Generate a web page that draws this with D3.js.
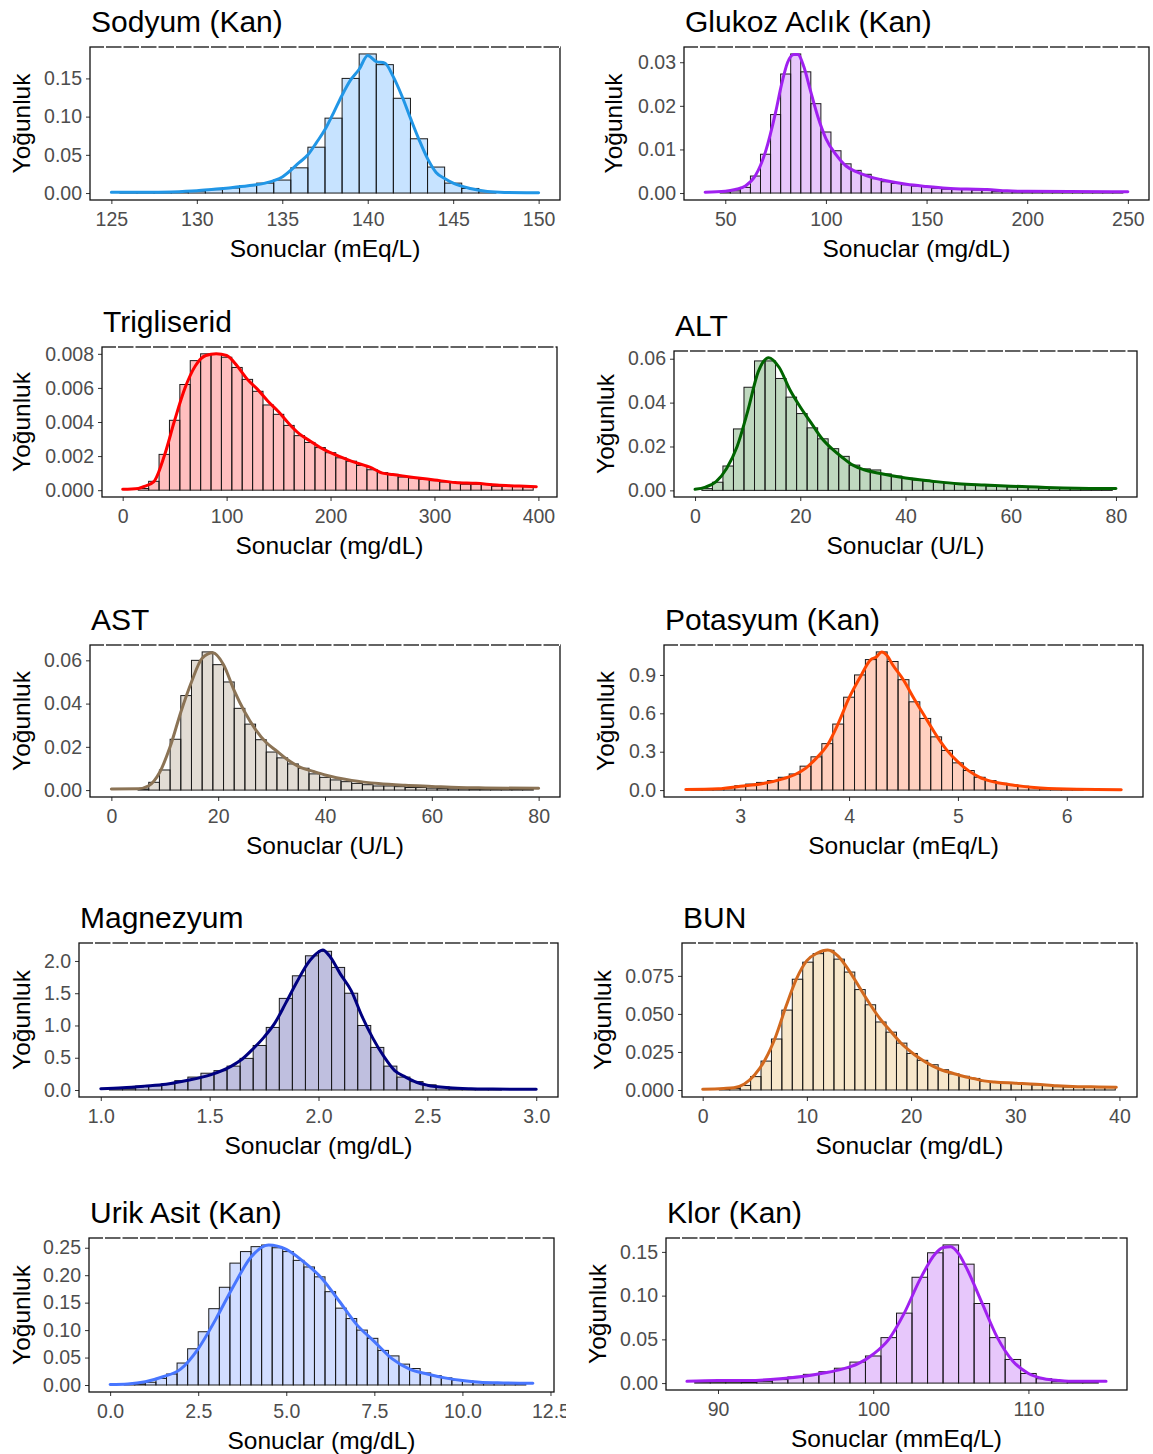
<!DOCTYPE html>
<html>
<head>
<meta charset="utf-8">
<script src="https://cdn.jsdelivr.net/npm/d3@7"></script>
<style>
  body { margin: 0; background: #fff; }
  svg { display: block; }
  text { font-family: "Liberation Sans", Arial, sans-serif; }
</style>
</head>
<body>
<svg width="1153" height="1454"></svg>
<script>
// histogram heights (density scale), one value per bin
const sodyumHist = [0.001, 0.001, 0.001, 0.0015, 0.0026, 0.0044, 0.0066, 0.0097, 0.013, 0.017, 0.033, 0.060, 0.098, 0.150, 0.182, 0.168, 0.124, 0.071, 0.034, 0.013, 0.006, 0.002];
const glukozHist = [0.0003, 0.0005, 0.0013, 0.0039, 0.0089, 0.018, 0.0273, 0.0319, 0.0278, 0.0205, 0.014, 0.0097, 0.0067, 0.0052, 0.0043, 0.0033, 0.0026, 0.0022, 0.0019, 0.0016, 0.0015, 0.0011, 0.0009, 0.0009, 0.0008, 0.0007, 0.0007, 0.0004, 0.0004, 0.0003, 0.0003, 0.0003, 0.0003, 0.0002, 0.0002, 0.0002, 0.0002, 0.0002, 0.0002, 0.0002];
const trigHist = [0.0001, 0.00052, 0.0021, 0.0041, 0.0062, 0.0076, 0.0080, 0.0080, 0.0078, 0.0072, 0.0065, 0.0058, 0.0050, 0.00445, 0.0038, 0.0032, 0.0028, 0.0025, 0.0022, 0.0019, 0.0017, 0.00145, 0.0012, 0.00103, 0.00093, 0.00077, 0.00072, 0.00064, 0.00056, 0.00048, 0.00046, 0.00035, 0.00035, 0.00035, 0.00023, 0.00023, 0.00023, 0.0002];
const altHist = [0.0008, 0.0037, 0.0111, 0.028, 0.047, 0.059, 0.059, 0.051, 0.0425, 0.035, 0.0285, 0.0235, 0.019, 0.0155, 0.0115, 0.0098, 0.0093, 0.0075, 0.0065, 0.0055, 0.0048, 0.0043, 0.0037, 0.0033, 0.0028, 0.0027, 0.0025, 0.002, 0.0018, 0.0016, 0.0015, 0.0014, 0.001, 0.001, 0.0009, 0.0008, 0.0007, 0.0006, 0.0006];
const astHist = [0.0005, 0.0036, 0.0093, 0.0235, 0.0437, 0.060, 0.0639, 0.058, 0.050, 0.0378, 0.0305, 0.0233, 0.0176, 0.0149, 0.0121, 0.0101, 0.0075, 0.0059, 0.0047, 0.0039, 0.0031, 0.0025, 0.0019, 0.0019, 0.0016, 0.0012, 0.0012, 0.0009, 0.0007, 0.0006, 0.0006, 0.0005, 0.0005, 0.0004, 0.0004, 0.0004, 0.0003];
const potasyumHist = [0.003, 0.005, 0.01, 0.02, 0.034, 0.047, 0.06, 0.074, 0.10, 0.126, 0.187, 0.26, 0.363, 0.516, 0.726, 0.90, 1.02, 1.08, 1.005, 0.863, 0.69, 0.56, 0.416, 0.31, 0.213, 0.153, 0.10, 0.074, 0.053, 0.04, 0.03, 0.02, 0.01, 0.008, 0.006, 0.005];
const magnezyumHist = [0.02, 0.02, 0.06, 0.065, 0.095, 0.145, 0.2, 0.26, 0.30, 0.37, 0.49, 0.69, 0.97, 1.42, 1.77, 2.08, 2.15, 1.90, 1.50, 1.00, 0.66, 0.37, 0.20, 0.13, 0.08, 0.05, 0.02, 0.02, 0.02, 0.02];
const bunHist = [0.0005, 0.001, 0.003, 0.0088, 0.019, 0.0335, 0.0525, 0.0728, 0.084, 0.0896, 0.0918, 0.086, 0.0775, 0.066, 0.056, 0.0447, 0.038, 0.0308, 0.024, 0.0195, 0.0166, 0.0133, 0.0106, 0.009, 0.0076, 0.0056, 0.005, 0.0047, 0.0043, 0.0038, 0.0034, 0.0031, 0.0022, 0.002, 0.002, 0.0018, 0.0016, 0.0016];
const urikHist = [0.001, 0.002, 0.005, 0.012, 0.02, 0.04, 0.066, 0.097, 0.139, 0.178, 0.222, 0.243, 0.252, 0.255, 0.25, 0.243, 0.227, 0.215, 0.197, 0.17, 0.14, 0.121, 0.1, 0.085, 0.063, 0.053, 0.038, 0.03, 0.022, 0.017, 0.013, 0.009, 0.0074, 0.0056, 0.004, 0.003, 0.0025, 0.002];
const klorHist = [0.0005, 0.0005, 0.0005, 0.0008, 0.002, 0.004, 0.007, 0.01, 0.013, 0.017, 0.024, 0.031, 0.052, 0.08, 0.121, 0.149, 0.158, 0.136, 0.091, 0.052, 0.027, 0.011, 0.005, 0.002, 0.001, 0.0008];

// kernel density curves, [x, density]
const sodyumDensity = [[125,0.001],[127,0.001],[128.5,0.0015],[130,0.003],[131,0.005],[132,0.007],[133,0.0095],[134,0.013],[135,0.021],[136,0.04],[136.5,0.05],[137,0.066],[137.5,0.083],[138,0.105],[138.5,0.128],[139,0.148],[139.5,0.162],[140,0.18],[140.5,0.172],[141,0.17],[141.5,0.152],[142,0.127],[142.5,0.098],[143,0.07],[143.5,0.045],[144,0.027],[144.5,0.019],[145,0.013],[146,0.006],[147,0.002],[148,0.0008],[150,0.0004]];
const glukozDensity = [[40,0.0002],[50,0.0004],[55,0.0008],[60,0.0016],[65,0.004],[70,0.0095],[75,0.0185],[78,0.025],[81,0.03],[84,0.0318],[86,0.0318],[89,0.029],[92,0.024],[96,0.0175],[100,0.0125],[105,0.0088],[110,0.0062],[115,0.0049],[120,0.004],[130,0.0028],[140,0.002],[150,0.0015],[160,0.0011],[170,0.0009],[180,0.0008],[190,0.0005],[200,0.0004],[250,0.0003]];
const trigDensity = [[0,0.00005],[15,0.0001],[20,0.0002],[30,0.0005],[40,0.002],[50,0.0041],[60,0.006],[70,0.0073],[80,0.0079],[90,0.0080],[100,0.0079],[110,0.0073],[120,0.0065],[130,0.0059],[140,0.0052],[150,0.0046],[160,0.0039],[170,0.0033],[180,0.0029],[190,0.0025],[200,0.0022],[220,0.0017],[240,0.0013],[250,0.001],[260,0.00092],[280,0.00075],[300,0.0006],[320,0.00045],[340,0.0004],[360,0.0003],[380,0.00025],[398,0.0002]];
const altDensity = [[0,0.0005],[2,0.0015],[4,0.004],[6,0.01],[8,0.02],[10,0.036],[12,0.054],[14,0.0605],[16,0.056],[18,0.046],[20,0.038],[22,0.031],[24,0.024],[26,0.019],[28,0.015],[30,0.0115],[32,0.0095],[35,0.0078],[40,0.0056],[45,0.0042],[50,0.003],[55,0.0024],[60,0.0019],[65,0.0015],[70,0.0011],[75,0.0009],[80,0.0008]];
const astDensity = [[0,0.0005],[5,0.0006],[7,0.002],[9,0.008],[11,0.02],[13,0.036],[15,0.05],[17,0.061],[19,0.0635],[21,0.058],[23,0.046],[25,0.036],[27,0.028],[29,0.022],[31,0.018],[33,0.014],[35,0.011],[38,0.0085],[40,0.007],[45,0.0045],[50,0.003],[55,0.0022],[60,0.0017],[65,0.0012],[70,0.001],[80,0.0008]];
const potasyumDensity = [[2.5,0.005],[2.8,0.01],[3.0,0.03],[3.2,0.05],[3.4,0.09],[3.5,0.12],[3.6,0.17],[3.7,0.25],[3.8,0.35],[3.9,0.52],[4.0,0.72],[4.1,0.88],[4.2,1.02],[4.25,1.04],[4.3,1.08],[4.35,1.05],[4.4,0.98],[4.5,0.86],[4.6,0.71],[4.7,0.57],[4.8,0.43],[4.9,0.31],[5.0,0.22],[5.1,0.15],[5.2,0.1],[5.3,0.07],[5.5,0.04],[5.7,0.02],[6.0,0.008],[6.5,0.003]];
const magnezyumDensity = [[1.0,0.02],[1.1,0.035],[1.2,0.06],[1.3,0.09],[1.4,0.15],[1.5,0.23],[1.6,0.37],[1.65,0.48],[1.7,0.64],[1.75,0.82],[1.8,1.04],[1.85,1.35],[1.9,1.67],[1.95,1.96],[2.0,2.14],[2.02,2.17],[2.05,2.08],[2.1,1.8],[2.15,1.54],[2.2,1.14],[2.25,0.8],[2.3,0.52],[2.35,0.3],[2.4,0.2],[2.45,0.12],[2.5,0.075],[2.6,0.035],[2.7,0.02],[2.8,0.015],[3.0,0.01]];
const bunDensity = [[0,0.0005],[2,0.001],[3,0.0015],[4,0.004],[5,0.01],[6,0.02],[7,0.035],[8,0.055],[9,0.073],[10,0.085],[11,0.09],[12,0.092],[13,0.088],[14,0.079],[15,0.068],[16,0.057],[17,0.047],[18,0.039],[19,0.031],[20,0.025],[21,0.02],[22,0.016],[23,0.013],[24,0.011],[25,0.009],[26,0.0075],[27,0.006],[28,0.0052],[30,0.0045],[32,0.0038],[34,0.0028],[36,0.0022],[38,0.002],[39.7,0.0018]];
const urikDensity = [[0,0.001],[0.5,0.002],[1,0.006],[1.5,0.015],[2,0.029],[2.5,0.066],[3,0.12],[3.5,0.18],[4,0.233],[4.5,0.255],[5,0.247],[5.5,0.224],[6,0.195],[6.5,0.153],[7,0.11],[7.5,0.079],[8,0.048],[8.5,0.029],[9,0.02],[9.5,0.013],[10,0.008],[10.5,0.005],[11,0.004],[12,0.003]];
const klorDensity = [[88,0.002],[90,0.003],[92,0.003],[94,0.005],[96,0.009],[97,0.012],[98,0.016],[99,0.022],[100,0.033],[101,0.05],[102,0.08],[103,0.118],[104,0.148],[104.5,0.155],[105,0.156],[105.5,0.148],[106,0.132],[107,0.092],[108,0.052],[109,0.025],[110,0.011],[111,0.005],[112,0.003],[113,0.002],[115,0.002]];

// tick values
const sodyumXTicks = [125, 130, 135, 140, 145, 150], sodyumYTicks = [0, 0.05, 0.10, 0.15];
const glukozXTicks = [50, 100, 150, 200, 250], glukozYTicks = [0, 0.01, 0.02, 0.03];
const trigXTicks = [0, 100, 200, 300, 400], trigYTicks = [0, 0.002, 0.004, 0.006, 0.008];
const altXTicks = [0, 20, 40, 60, 80], altYTicks = [0, 0.02, 0.04, 0.06];
const astXTicks = [0, 20, 40, 60, 80], astYTicks = [0, 0.02, 0.04, 0.06];
const potasyumXTicks = [3, 4, 5, 6], potasyumYTicks = [0, 0.3, 0.6, 0.9];
const magnezyumXTicks = [1, 1.5, 2, 2.5, 3], magnezyumYTicks = [0, 0.5, 1, 1.5, 2];
const bunXTicks = [0, 10, 20, 30, 40], bunYTicks = [0, 0.025, 0.05, 0.075];
const urikXTicks = [0, 2.5, 5, 7.5, 10, 12.5], urikYTicks = [0, 0.05, 0.10, 0.15, 0.20, 0.25];
const klorXTicks = [90, 100, 110], klorYTicks = [0, 0.05, 0.10, 0.15];

const panels = [
  { title: "Sodyum (Kan)", unit: "Sonuclar (mEq/L)", hist: sodyumHist, start: 125.5, bw: 1, dens: sodyumDensity,
    xt: sodyumXTicks, yt: sodyumYTicks, xf: "d", yf: ".2f", line: "#2196e6", fill: "#1e90ff",
    box: [90, 560, 47, 200], ylab: 22 },
  { title: "Glukoz Aclık (Kan)", unit: "Sonuclar (mg/dL)", hist: glukozHist, start: 47.5, bw: 5, dens: glukozDensity,
    xt: glukozXTicks, yt: glukozYTicks, xf: "d", yf: ".2f", line: "#a020f0", fill: "#a020f0",
    box: [684, 1149, 47, 200], ylab: 614 },
  { title: "Trigliserid", unit: "Sonuclar (mg/dL)", hist: trigHist, start: 15, bw: 10, dens: trigDensity,
    xt: trigXTicks, yt: trigYTicks, xf: "d", yf: ".3f", line: "#ff0000", fill: "#ff0000",
    box: [102, 557, 347, 497], ylab: 22 },
  { title: "ALT", unit: "Sonuclar (U/L)", hist: altHist, start: 1.3, bw: 2, dens: altDensity,
    xt: altXTicks, yt: altYTicks, xf: "d", yf: ".2f", line: "#006400", fill: "#006400",
    box: [674, 1137, 351, 497], ylab: 606 },
  { title: "AST", unit: "Sonuclar (U/L)", hist: astHist, start: 5, bw: 2, dens: astDensity,
    xt: astXTicks, yt: astYTicks, xf: "d", yf: ".2f", line: "#8b7355", fill: "#8b7355",
    box: [90, 560, 645, 797], ylab: 22 },
  { title: "Potasyum (Kan)", unit: "Sonuclar (mEq/L)", hist: potasyumHist, start: 2.55, bw: 0.1, dens: potasyumDensity,
    xt: potasyumXTicks, yt: potasyumYTicks, xf: "d", yf: ".1f", line: "#ff4500", fill: "#ff4500",
    box: [664, 1143, 645, 797], ylab: 606 },
  { title: "Magnezyum", unit: "Sonuclar (mg/dL)", hist: magnezyumHist, start: 1.04, bw: 0.06, dens: magnezyumDensity,
    xt: magnezyumXTicks, yt: magnezyumYTicks, xf: ".1f", yf: ".1f", line: "#000080", fill: "#000080",
    box: [79, 558, 943, 1097], ylab: 22 },
  { title: "BUN", unit: "Sonuclar (mg/dL)", hist: bunHist, start: 1.6, bw: 1, dens: bunDensity,
    xt: bunXTicks, yt: bunYTicks, xf: "d", yf: ".3f", line: "#d2691e", fill: "#e0a030",
    box: [682, 1137, 943, 1097], ylab: 603 },
  { title: "Urik Asit (Kan)", unit: "Sonuclar (mg/dL)", hist: urikHist, start: 0.4, bw: 0.3, dens: urikDensity,
    xt: urikXTicks, yt: urikYTicks, xf: ".1f", yf: ".2f", line: "#4876ff", fill: "#4876ff",
    box: [89, 554, 1238, 1392], ylab: 22, clip: 566 },
  { title: "Klor (Kan)", unit: "Sonuclar (mmEq/L)", hist: klorHist, start: 88.5, bw: 1, dens: klorDensity,
    xt: klorXTicks, yt: klorYTicks, xf: "d", yf: ".2f", line: "#a020f0", fill: "#a020f0",
    box: [666, 1127, 1238, 1390], ylab: 598 }
];

const svg = d3.select("svg");
const defs = svg.append("defs");

panels.forEach((p, k) => {
  const [x0, x1, y0, y1] = p.box;
  const xs = p.dens.map(d => d[0]).concat([p.start, p.start + p.bw * p.hist.length]);
  const lo = d3.min(xs), hi = d3.max(xs), padX = (hi - lo) * 0.05;
  const x = d3.scaleLinear().domain([lo - padX, hi + padX]).range([x0, x1]);
  const top = Math.max(d3.max(p.hist), d3.max(p.dens, d => d[1]));
  const y = d3.scaleLinear().domain([-top * 0.05, top * 1.05]).range([y1, y0]);

  const g = svg.append("g");
  if (p.clip) {
    defs.append("clipPath").attr("id", "clip" + k)
      .append("rect").attr("x", 0).attr("y", y0 - 60).attr("width", p.clip).attr("height", 300);
    g.attr("clip-path", `url(#clip${k})`);
  }

  // histogram
  g.append("g").selectAll("rect").data(p.hist).join("rect")
    .attr("x", (d, i) => x(p.start + i * p.bw))
    .attr("width", x(p.start + p.bw) - x(p.start))
    .attr("y", d => y(d))
    .attr("height", d => y(0) - y(d))
    .attr("fill", p.fill).attr("fill-opacity", 0.25)
    .attr("stroke", "#1a1a1a").attr("stroke-width", 1);

  // density curve
  g.append("path").datum(p.dens)
    .attr("fill", "none").attr("stroke", p.line).attr("stroke-width", 3)
    .attr("stroke-linejoin", "round").attr("stroke-linecap", "round")
    .attr("d", d3.line().x(d => x(d[0])).y(d => y(d[1])).curve(d3.curveMonotoneX));

  // axes
  const ax = g.append("g").attr("transform", `translate(0,${y1})`)
    .call(d3.axisBottom(x).tickValues(p.xt).tickFormat(d3.format(p.xf)).tickSize(4).tickPadding(8));
  const ay = g.append("g").attr("transform", `translate(${x0},0)`)
    .call(d3.axisLeft(y).tickValues(p.yt).tickFormat(d3.format(p.yf)).tickSize(4).tickPadding(4));
  [ax, ay].forEach(a => {
    a.select(".domain").remove();
    a.selectAll(".tick line").attr("stroke", "#333");
    a.selectAll(".tick text").attr("fill", "#4d4d4d").style("font-size", "19.5px");
  });

  // panel border, with the light breaks along the top edge
  g.append("rect").attr("x", x0).attr("y", y0).attr("width", x1 - x0).attr("height", y1 - y0)
    .attr("fill", "none").attr("stroke", "#111").attr("stroke-width", 1.3);
  g.append("line").attr("x1", x0 + 14).attr("x2", x1).attr("y1", y0).attr("y2", y0)
    .attr("stroke", "#fff").attr("stroke-width", 2).attr("stroke-dasharray", "2 15.5");

  // labels
  g.append("text").attr("x", x0 + 1).attr("y", y0 - 15)
    .style("font-size", "30px").attr("fill", "#000").text(p.title);
  g.append("text").attr("x", (x0 + x1) / 2).attr("y", y1 + 57)
    .attr("text-anchor", "middle").style("font-size", "24.5px").attr("fill", "#000").text(p.unit);
  g.append("text")
    .attr("transform", `translate(${p.ylab + 8},${(y0 + y1) / 2}) rotate(-90)`)
    .attr("text-anchor", "middle").style("font-size", "24.5px").attr("fill", "#000").text("Yoğunluk");
});
</script>
</body>
</html>
